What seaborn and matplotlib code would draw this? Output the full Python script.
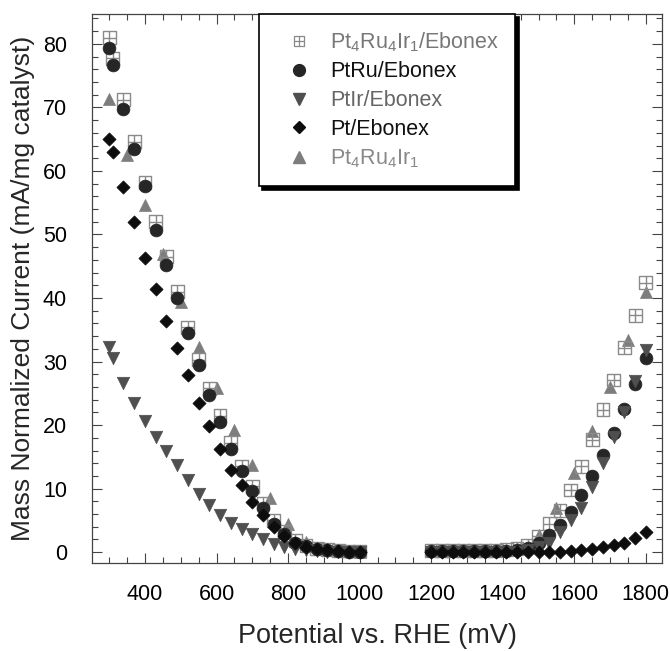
import numpy as np
import pandas as pd
import matplotlib
matplotlib.use("Agg")
import matplotlib.pyplot as plt
from matplotlib.path import Path
from matplotlib.lines import Line2D
import seaborn as sns

# Potentials (mV vs. RHE) for the Ebonex-supported catalysts
potential_ebonex = [300, 310, 340, 370, 400, 430, 460, 490, 520, 550, 580, 610, 640,
                    670, 700, 730, 760, 790, 820, 850, 880, 910, 940, 970, 1000,
                    1200, 1230, 1260, 1290, 1320, 1350, 1380, 1410, 1440, 1470, 1500,
                    1530, 1560, 1590, 1620, 1650, 1680, 1710, 1740, 1770, 1800]

# Mass normalized current (mA/mg catalyst)
pt4ru4ir1_ebonex = [81.0, 77.7, 71.2, 64.6, 58.2, 52.0, 46.5, 41.0, 35.4, 30.3, 25.8, 21.5,
                    17.2, 13.5, 10.4, 7.6, 5.0, 3.2, 1.8, 1.0, 0.6, 0.4, 0.3, 0.2, 0.2,
                    0.3, 0.3, 0.3, 0.3, 0.3, 0.3, 0.3, 0.4, 0.6, 1.1, 2.5, 4.5, 6.6, 9.8,
                    13.5, 17.7, 22.4, 27.1, 32.2, 37.3, 42.4]
ptru_ebonex = [79.4, 76.7, 69.7, 63.4, 57.6, 50.7, 45.2, 40.0, 34.5, 29.4, 24.8, 20.5,
               16.3, 12.8, 9.7, 7.0, 4.4, 2.8, 1.5, 0.9, 0.5, 0.3, 0.2, 0.1, 0.1,
               0.2, 0.2, 0.2, 0.2, 0.2, 0.2, 0.2, 0.2, 0.3, 0.7, 1.5, 2.7, 4.3, 6.3,
               9.0, 12.0, 15.3, 18.8, 22.5, 26.4, 30.5]
ptir_ebonex = [32.3, 30.5, 26.6, 23.5, 20.7, 18.2, 15.9, 13.7, 11.4, 9.2, 7.4, 5.9,
               4.6, 3.7, 2.8, 2.0, 1.3, 0.8, 0.5, 0.3, 0.2, 0.1, 0.1, 0.0, 0.0,
               0.1, 0.1, 0.1, 0.1, 0.1, 0.1, 0.1, 0.1, 0.1, 0.3, 0.8, 1.5, 3.2, 5.1,
               7.0, 10.3, 14.0, 18.2, 22.0, 26.9, 31.8]
pt_ebonex = [65.0, 63.0, 57.4, 51.9, 46.3, 41.4, 36.4, 32.1, 27.9, 23.5, 19.8, 16.2,
             13.0, 10.6, 7.9, 5.8, 4.0, 2.5, 1.4, 0.8, 0.5, 0.3, 0.2, 0.1, 0.1,
             0.1, 0.1, 0.1, 0.1, 0.1, 0.1, 0.1, 0.1, 0.1, 0.1, 0.1, 0.1, 0.1, 0.2,
             0.3, 0.5, 0.8, 1.2, 1.5, 2.3, 3.2]

# Unsupported Pt4Ru4Ir1
potential_unsupported = [300, 350, 400, 450, 500, 550, 600, 650, 700, 750, 800, 850,
                         900, 950, 1000, 1200, 1250, 1300, 1350, 1400, 1450, 1500,
                         1550, 1600, 1650, 1700, 1750, 1800]
pt4ru4ir1 = [71.3, 62.5, 54.7, 46.9, 39.4, 32.3, 25.8, 19.3, 13.7, 8.6, 4.4, 1.6,
             0.6, 0.3, 0.1, 0.2, 0.2, 0.2, 0.2, 0.3, 0.6, 2.7, 6.9, 12.5, 19.0,
             26.0, 33.4, 41.0]

labels = [r"Pt$_4$Ru$_4$Ir$_1$/Ebonex", "PtRu/Ebonex", "PtIr/Ebonex", "Pt/Ebonex",
          r"Pt$_4$Ru$_4$Ir$_1$"]
label_colors = ["#777777", "#111111", "#666666", "#111111", "#888888"]

sns.set_theme(style="ticks")
plt.rcParams["font.family"] = ["Liberation Sans", "DejaVu Sans"]
plt.rcParams["mathtext.default"] = "regular"

# Square with a cross inside, drawn hollow
boxed_cross = Path(
    [(-1, -1), (1, -1), (1, 1), (-1, 1), (-1, -1), (0, -1), (0, 1), (-1, 0), (1, 0)],
    [Path.MOVETO, Path.LINETO, Path.LINETO, Path.LINETO, Path.CLOSEPOLY,
     Path.MOVETO, Path.LINETO, Path.MOVETO, Path.LINETO])

fig = plt.figure(figsize=(6.7, 6.51), dpi=100)
ax = fig.add_axes([0.1373, 0.1352, 0.8507, 0.8433])

df_e = pd.DataFrame({"potential": potential_ebonex,
                     "Pt4Ru4Ir1/Ebonex": pt4ru4ir1_ebonex,
                     "PtRu/Ebonex": ptru_ebonex,
                     "PtIr/Ebonex": ptir_ebonex,
                     "Pt/Ebonex": pt_ebonex})
df_u = pd.DataFrame({"potential": potential_unsupported, "Pt4Ru4Ir1": pt4ru4ir1})

sq_col, ci_col, ir_col, pt_col, tr_col = "#8a8a8a", "#262626", "#4f4f4f", "#0d0d0d", "#7d7d7d"

sns.scatterplot(data=df_u, x="potential", y="Pt4Ru4Ir1", ax=ax, marker="^",
                s=75, color=tr_col, edgecolor=tr_col, linewidth=0.5, zorder=2)
sns.scatterplot(data=df_e, x="potential", y="Pt4Ru4Ir1/Ebonex", ax=ax, marker=boxed_cross,
                s=85, facecolor="none", edgecolor=sq_col, linewidth=1.0, zorder=3)
sns.scatterplot(data=df_e, x="potential", y="PtRu/Ebonex", ax=ax, marker="o",
                s=85, color=ci_col, edgecolor=ci_col, linewidth=0.5, zorder=4)
sns.scatterplot(data=df_e, x="potential", y="PtIr/Ebonex", ax=ax, marker="v",
                s=80, color=ir_col, edgecolor=ir_col, linewidth=0.5, zorder=5)
sns.scatterplot(data=df_e, x="potential", y="Pt/Ebonex", ax=ax, marker="D",
                s=45, color=pt_col, edgecolor=pt_col, linewidth=0.5, zorder=6)

ax.set_xlim(252, 1845)
ax.set_ylim(-1.7, 84.7)
ax.set_xticks([400, 600, 800, 1000, 1200, 1400, 1600, 1800])
ax.set_xticks(np.arange(300, 1850, 50), minor=True)
ax.set_yticks([0, 10, 20, 30, 40, 50, 60, 70, 80])
ax.set_yticks(np.arange(0, 85, 2), minor=True)
ax.tick_params(which="both", direction="in", top=True, right=True, colors="#444444",
               labelcolor="black", labelsize=15.5, width=0.8)
ax.tick_params(which="major", length=7)
ax.tick_params(axis="x", which="major", pad=15)
ax.tick_params(axis="y", which="major", pad=18)
ax.tick_params(which="minor", length=4)
for sp in ax.spines.values():
    sp.set_color("#444444")
    sp.set_linewidth(0.9)

ax.set_xlabel("Potential vs. RHE (mV)", fontsize=19.5, labelpad=13)
ax.set_ylabel("Mass Normalized Current (mA/mg catalyst)", fontsize=19, labelpad=6)

handles = [
    Line2D([], [], ls="none", marker=boxed_cross, ms=7, mfc="none", mec=sq_col, mew=0.9),
    Line2D([], [], ls="none", marker="o", ms=8.5, color=ci_col),
    Line2D([], [], ls="none", marker="v", ms=8.5, color=ir_col),
    Line2D([], [], ls="none", marker="D", ms=6, color=pt_col),
    Line2D([], [], ls="none", marker="^", ms=8.5, color=tr_col),
]
leg = ax.legend(handles, labels, loc="upper left", bbox_to_anchor=(0.293, 1.0),
                borderaxespad=0, fontsize=15.5, frameon=True, fancybox=False,
                handlelength=2.2, handletextpad=0.35, borderpad=0.75, labelspacing=0.36,
                shadow={"ox": 2.5, "oy": -2.5, "color": "black", "alpha": 1})
leg.get_frame().set_edgecolor("black")
leg.get_frame().set_linewidth(1.2)
leg.set_zorder(10)
for txt, c in zip(leg.get_texts(), label_colors):
    txt.set_color(c)

fig.savefig("out.png", dpi=100, facecolor="white")
